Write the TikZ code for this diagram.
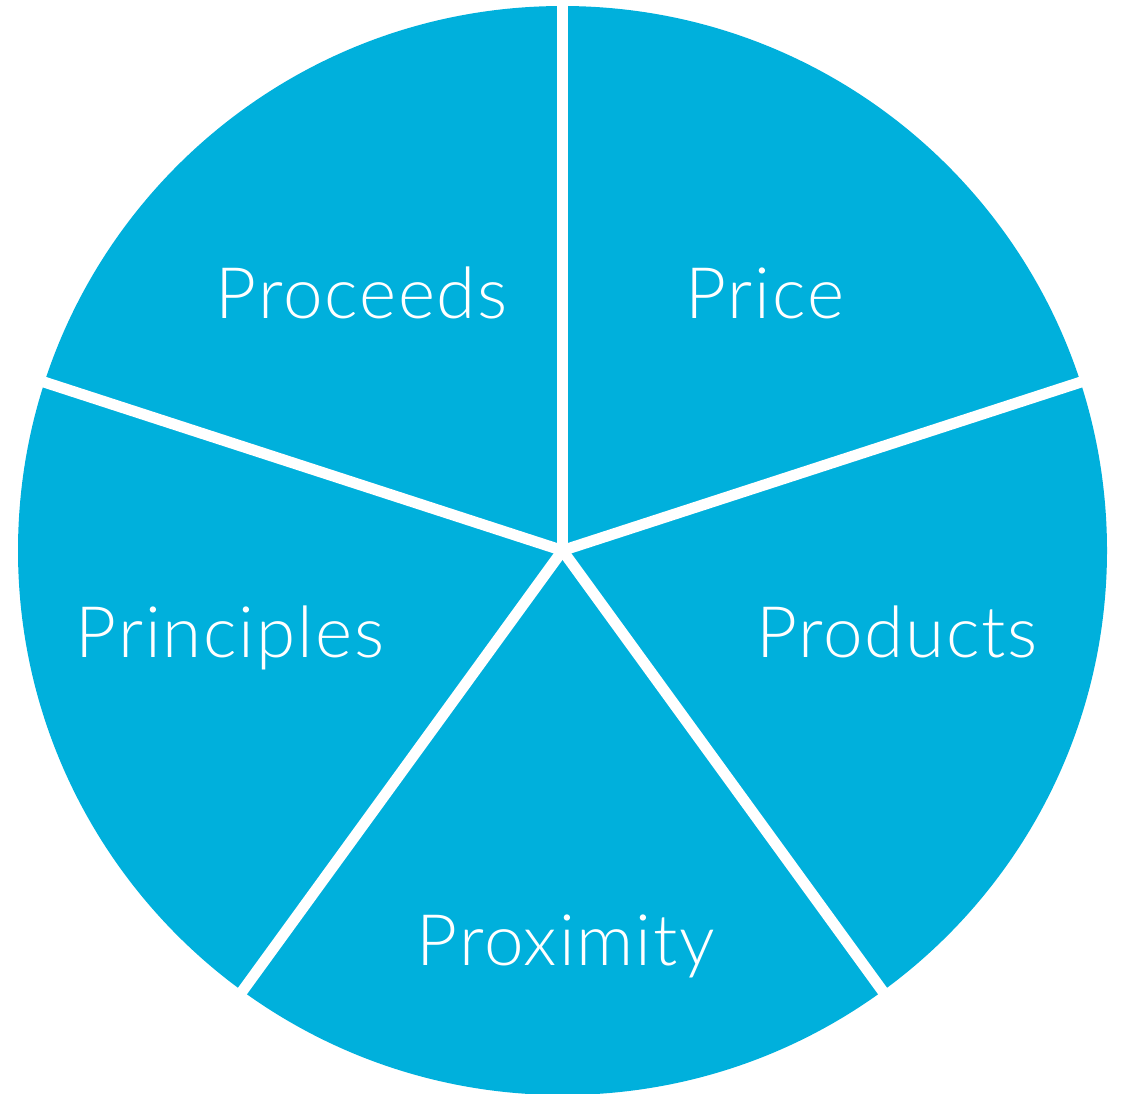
\documentclass[tikz,border=0pt]{standalone}
\usepackage{fontspec}
\setmainfont{Lato Light}[LetterSpace=2.6]
\definecolor{pieblue}{RGB}{0,176,220}
\begin{document}
\begin{tikzpicture}[x=1pt,y=-1pt,
  lbl/.style={text=white,font=\fontsize{71}{80}\selectfont,anchor=base,inner sep=0pt},
  gap/.style={white,line width=11pt}]
\useasboundingbox (0,0) rectangle (1127,1093);
\coordinate (c) at (562.5,550.5);
\fill[pieblue] (c) circle[radius=544.5];
\foreach \a in {90,18,-54,-126,162}
  \draw[gap] (c) -- ++({-\a}:560) coordinate (e\a);
\node[lbl] (proceeds) at (362,318) {Proceeds};
\node[lbl] (price) at (765,318) {Price};
\node[lbl] (principles) at (230,657) {Principles};
\node[lbl] (products) at (897,657) {Products};
\node[lbl] (proximity) at (566,965) {Proximity};
\end{tikzpicture}
\end{document}
